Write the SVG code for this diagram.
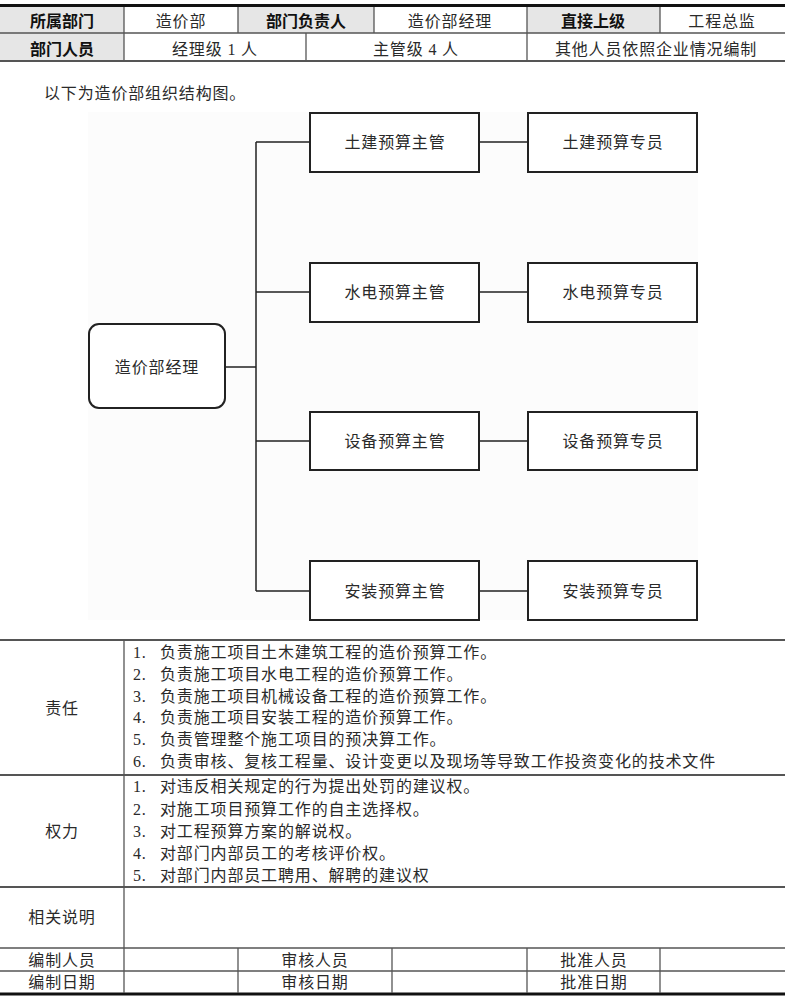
<svg xmlns="http://www.w3.org/2000/svg" width="785" height="1000" viewBox="0 0 785 1000">
<style>
.t{font-family:"Liberation Serif","Noto Sans CJK SC",serif;font-size:16px;fill:#2a2a2a;letter-spacing:0.85px}
.c{text-anchor:middle}
.h{font-family:"Noto Sans CJK SC","Noto Sans CJK SC",sans-serif;font-size:16px;font-weight:700;fill:#111;text-anchor:middle}
.g{fill:#e6e6e6}
.ln{stroke:#555;stroke-width:1.3;fill:none}
.lm{stroke:#555;stroke-width:2;fill:none}
.lt{stroke:#111;stroke-width:3;fill:none}
.box{fill:#fff;stroke:#222;stroke-width:2}
.con{stroke:#222;stroke-width:1.5;fill:none}
</style>
<rect width="785" height="1000" fill="#fff"/>

<!-- Top table -->
<g id="top-table">
<rect class="g" x="0" y="7" width="124" height="26"/>
<rect class="g" x="238" y="7" width="136" height="26"/>
<rect class="g" x="527" y="7" width="133" height="26"/>
<rect class="g" x="0" y="33" width="124" height="28"/>
<line class="lt" x1="0" y1="5.5" x2="785" y2="5.5"/>
<line class="ln" x1="0" y1="33" x2="785" y2="33"/>
<line class="lm" x1="0" y1="61" x2="785" y2="61"/>
<line class="ln" x1="124" y1="7" x2="124" y2="61"/>
<line class="ln" x1="238" y1="7" x2="238" y2="33"/>
<line class="ln" x1="374" y1="7" x2="374" y2="33"/>
<line class="ln" x1="527" y1="7" x2="527" y2="61"/>
<line class="ln" x1="660" y1="7" x2="660" y2="33"/>
<line class="ln" x1="306" y1="33" x2="306" y2="61"/>
<text class="h" x="62" y="27">所属部门</text>
<text class="t c" x="181" y="27">造价部</text>
<text class="h" x="306" y="27">部门负责人</text>
<text class="t c" x="450" y="27">造价部经理</text>
<text class="h" x="593" y="27">直接上级</text>
<text class="t c" x="722" y="27">工程总监</text>
<text class="h" x="62" y="55">部门人员</text>
<text class="t c" x="215" y="55">经理级 1 人</text>
<text class="t c" x="416" y="55">主管级 4 人</text>
<text class="t c" x="656" y="55">其他人员依照企业情况编制</text>
</g>

<text class="t" x="44" y="99">以下为造价部组织结构图。</text>

<!-- Chart -->
<rect x="88" y="112" width="610" height="508" fill="#fcfcfc"/>
<g id="connectors">
<line class="con" x1="225" y1="367" x2="256" y2="367"/>
<line class="con" x1="256" y1="142" x2="256" y2="591"/>
<line class="con" x1="256" y1="142" x2="310" y2="142"/>
<line class="con" x1="256" y1="292" x2="310" y2="292"/>
<line class="con" x1="256" y1="441" x2="310" y2="441"/>
<line class="con" x1="256" y1="591" x2="310" y2="591"/>
<line class="con" x1="479" y1="142" x2="528" y2="142"/>
<line class="con" x1="479" y1="292" x2="528" y2="292"/>
<line class="con" x1="479" y1="441" x2="528" y2="441"/>
<line class="con" x1="479" y1="591" x2="528" y2="591"/>
</g>
<g id="manager"><rect class="box" x="89" y="324" width="136" height="84" rx="10"/><text class="t c" x="157" y="373">造价部经理</text></g>
<g id="sup1"><rect class="box" x="310" y="113" width="169" height="59"/><text class="t c" x="395" y="148">土建预算主管</text></g>
<g id="sup2"><rect class="box" x="310" y="263" width="169" height="59"/><text class="t c" x="395" y="298">水电预算主管</text></g>
<g id="sup3"><rect class="box" x="310" y="412" width="169" height="58"/><text class="t c" x="395" y="447">设备预算主管</text></g>
<g id="sup4"><rect class="box" x="310" y="561" width="169" height="59"/><text class="t c" x="395" y="597">安装预算主管</text></g>
<g id="spec1"><rect class="box" x="528" y="113" width="169" height="59"/><text class="t c" x="613" y="148">土建预算专员</text></g>
<g id="spec2"><rect class="box" x="528" y="263" width="169" height="59"/><text class="t c" x="613" y="298">水电预算专员</text></g>
<g id="spec3"><rect class="box" x="528" y="412" width="169" height="58"/><text class="t c" x="613" y="447">设备预算专员</text></g>
<g id="spec4"><rect class="box" x="528" y="561" width="169" height="59"/><text class="t c" x="613" y="597">安装预算专员</text></g>

<!-- Bottom table -->
<g id="bottom-table">
<line class="lm" x1="0" y1="640" x2="785" y2="640"/>
<line class="lm" x1="0" y1="775" x2="785" y2="775"/>
<line class="lm" x1="0" y1="887" x2="785" y2="887"/>
<line class="ln" x1="0" y1="948" x2="785" y2="948"/>
<line class="ln" x1="0" y1="971" x2="785" y2="971"/>
<line class="lt" x1="0" y1="994" x2="785" y2="994"/>
<line class="ln" x1="124" y1="640" x2="124" y2="993"/>
<line class="ln" x1="238" y1="948" x2="238" y2="993"/>
<line class="ln" x1="392" y1="948" x2="392" y2="993"/>
<line class="ln" x1="527" y1="948" x2="527" y2="993"/>
<line class="ln" x1="660" y1="948" x2="660" y2="993"/>

<text class="t c" x="62" y="714">责任</text>
<text class="t"><tspan x="133" y="658">1.</tspan><tspan x="160" y="658">负责施工项目土木建筑工程的造价预算工作。</tspan></text>
<text class="t"><tspan x="133" y="679.5">2.</tspan><tspan x="160" y="679.5">负责施工项目水电工程的造价预算工作。</tspan></text>
<text class="t"><tspan x="133" y="701.5">3.</tspan><tspan x="160" y="701.5">负责施工项目机械设备工程的造价预算工作。</tspan></text>
<text class="t"><tspan x="133" y="723">4.</tspan><tspan x="160" y="723">负责施工项目安装工程的造价预算工作。</tspan></text>
<text class="t"><tspan x="133" y="744.5">5.</tspan><tspan x="160" y="744.5">负责管理整个施工项目的预决算工作。</tspan></text>
<text class="t"><tspan x="133" y="766.5">6.</tspan><tspan x="160" y="766.5">负责审核、复核工程量、设计变更以及现场等导致工作投资变化的技术文件</tspan></text>

<text class="t c" x="62" y="837">权力</text>
<text class="t"><tspan x="133" y="792">1.</tspan><tspan x="160" y="792">对违反相关规定的行为提出处罚的建议权。</tspan></text>
<text class="t"><tspan x="133" y="814.5">2.</tspan><tspan x="160" y="814.5">对施工项目预算工作的自主选择权。</tspan></text>
<text class="t"><tspan x="133" y="836.5">3.</tspan><tspan x="160" y="836.5">对工程预算方案的解说权。</tspan></text>
<text class="t"><tspan x="133" y="858.5">4.</tspan><tspan x="160" y="858.5">对部门内部员工的考核评价权。</tspan></text>
<text class="t"><tspan x="133" y="880.5">5.</tspan><tspan x="160" y="880.5">对部门内部员工聘用、解聘的建议权</tspan></text>

<text class="t c" x="62" y="923">相关说明</text>
<text class="t c" x="62" y="966">编制人员</text>
<text class="t c" x="315" y="966">审核人员</text>
<text class="t c" x="594" y="966">批准人员</text>
<text class="t c" x="62" y="988">编制日期</text>
<text class="t c" x="315" y="988">审核日期</text>
<text class="t c" x="594" y="988">批准日期</text>
</g>
</svg>
